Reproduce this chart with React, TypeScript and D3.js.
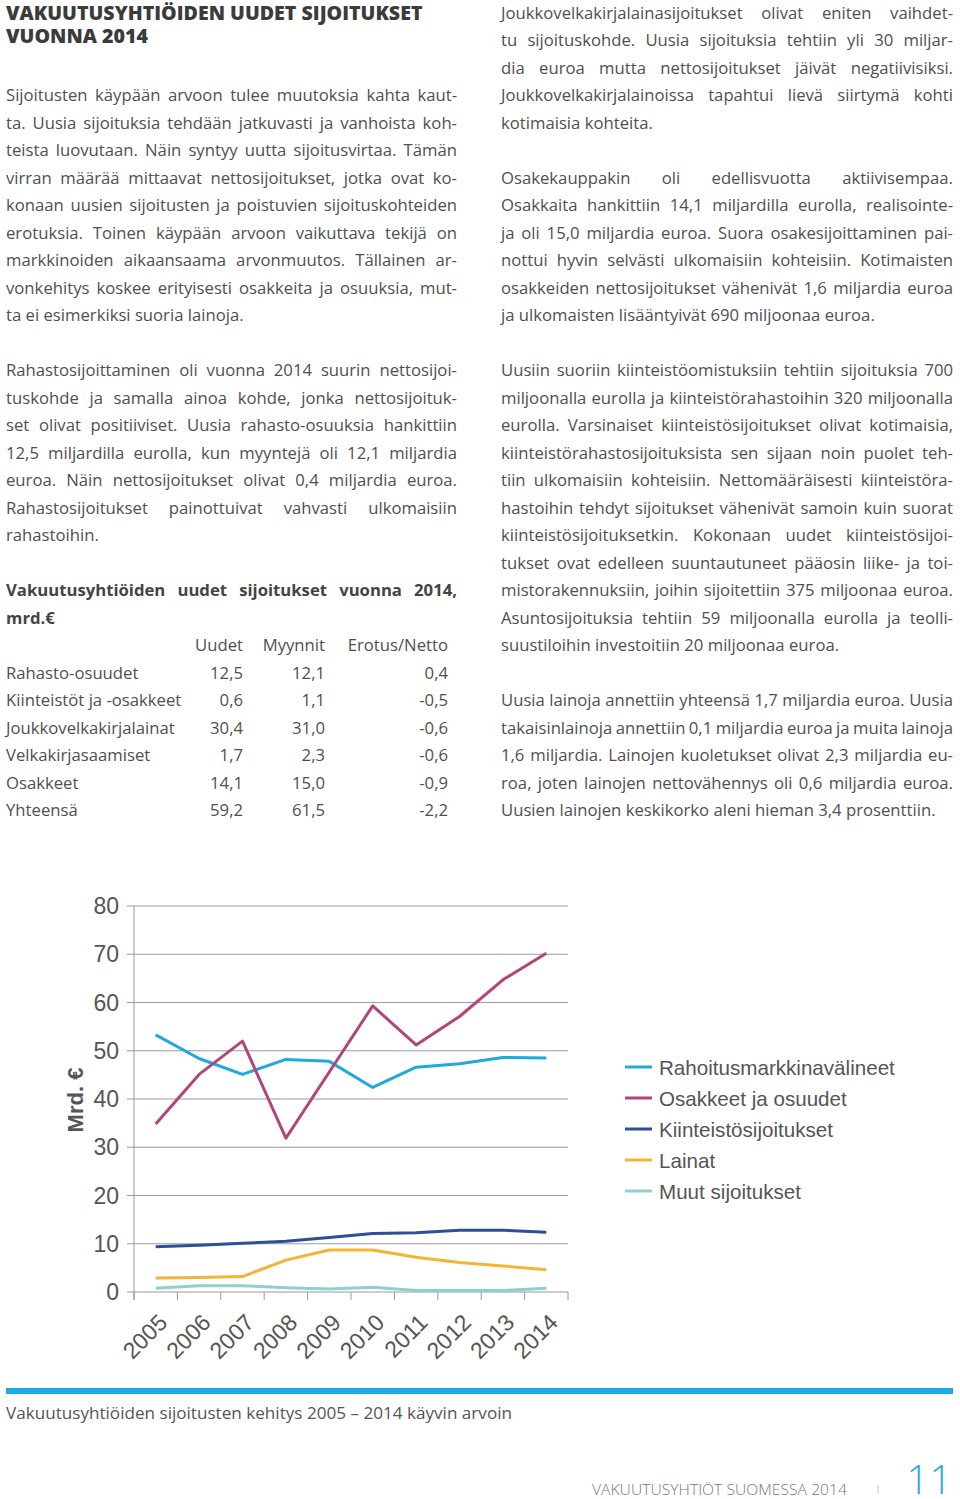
import React from "react";
import * as d3 from "d3";

// ---------- DATA ----------
const years = ["2005", "2006", "2007", "2008", "2009", "2010", "2011", "2012", "2013", "2014"];
const rahoitusmarkkinavalineet = [53.3, 48.4, 45.1, 48.2, 47.8, 42.4, 46.6, 47.3, 48.6, 48.5];
const osakkeetJaOsuudet = [34.8, 45.1, 52.0, 31.9, 45.6, 59.3, 51.2, 57.1, 64.7, 70.2];
const kiinteistosijoitukset = [9.4, 9.7, 10.1, 10.5, 11.3, 12.1, 12.3, 12.8, 12.8, 12.4];
const lainat = [2.9, 3.0, 3.2, 6.6, 8.7, 8.7, 7.2, 6.1, 5.4, 4.6];
const muutSijoitukset = [0.8, 1.3, 1.3, 0.9, 0.6, 1.0, 0.3, 0.3, 0.3, 0.8];
const seriesNames = ["Rahoitusmarkkinavälineet", "Osakkeet ja osuudet", "Kiinteistösijoitukset", "Lainat", "Muut sijoitukset"];
const seriesColors = ["#22a9dc", "#b2457c", "#2f4e98", "#f4b533", "#8fcfcf"];
const yTicks = [0, 10, 20, 30, 40, 50, 60, 70, 80];

const tableHeader = ["Uudet", "Myynnit", "Erotus/Netto"];
const tableCategories = ["Rahasto-osuudet", "Kiinteistöt ja -osakkeet", "Joukkovelkakirjalainat", "Velkakirjasaamiset", "Osakkeet", "Yhteensä"];
const tableUudet = ["12,5", "0,6", "30,4", "1,7", "14,1", "59,2"];
const tableMyynnit = ["12,1", "1,1", "31,0", "2,3", "15,0", "61,5"];
const tableNetto = ["0,4", "-0,5", "-0,6", "-0,6", "-0,9", "-2,2"];

const heading = ["VAKUUTUSYHTIÖIDEN UUDET SIJOITUKSET", "VUONNA 2014"];
const leftPara1 = [
  "Sijoitusten käypään arvoon tulee muutoksia kahta kaut-",
  "ta. Uusia sijoituksia tehdään jatkuvasti ja vanhoista koh-",
  "teista luovutaan. Näin syntyy uutta sijoitusvirtaa. Tämän",
  "virran määrää mittaavat nettosijoitukset, jotka ovat ko-",
  "konaan uusien sijoitusten ja poistuvien sijoituskohteiden",
  "erotuksia. Toinen käypään arvoon vaikuttava tekijä on",
  "markkinoiden aikaansaama arvonmuutos. Tällainen ar-",
  "vonkehitys koskee erityisesti osakkeita ja osuuksia, mut-",
  "ta ei esimerkiksi suoria lainoja.",
];
const leftPara2 = [
  "Rahastosijoittaminen oli vuonna 2014 suurin nettosijoi-",
  "tuskohde ja samalla ainoa kohde, jonka nettosijoituk-",
  "set olivat positiiviset. Uusia rahasto-osuuksia hankittiin",
  "12,5 miljardilla eurolla, kun myyntejä oli 12,1 miljardia",
  "euroa. Näin nettosijoitukset olivat 0,4 miljardia euroa.",
  "Rahastosijoitukset painottuivat vahvasti ulkomaisiin",
  "rahastoihin.",
];
const tableTitle = ["Vakuutusyhtiöiden uudet sijoitukset vuonna 2014,", "mrd.€"];
const rightPara1 = [
  "Joukkovelkakirjalainasijoitukset olivat eniten vaihdet-",
  "tu sijoituskohde. Uusia sijoituksia tehtiin yli 30 miljar-",
  "dia euroa mutta nettosijoitukset jäivät negatiivisiksi.",
  "Joukkovelkakirjalainoissa tapahtui lievä siirtymä kohti",
  "kotimaisia kohteita.",
];
const rightPara2 = [
  "Osakekauppakin oli edellisvuotta aktiivisempaa.",
  "Osakkaita hankittiin 14,1 miljardilla eurolla, realisointe-",
  "ja oli 15,0 miljardia euroa. Suora osakesijoittaminen pai-",
  "nottui hyvin selvästi ulkomaisiin kohteisiin. Kotimaisten",
  "osakkeiden nettosijoitukset vähenivät 1,6 miljardia euroa",
  "ja ulkomaisten lisääntyivät 690 miljoonaa euroa.",
];
const rightPara3 = [
  "Uusiin suoriin kiinteistöomistuksiin tehtiin sijoituksia 700",
  "miljoonalla eurolla ja kiinteistörahastoihin 320 miljoonalla",
  "eurolla. Varsinaiset kiinteistösijoitukset olivat kotimaisia,",
  "kiinteistörahastosijoituksista sen sijaan noin puolet teh-",
  "tiin ulkomaisiin kohteisiin. Nettomääräisesti kiinteistöra-",
  "hastoihin tehdyt sijoitukset vähenivät samoin kuin suorat",
  "kiinteistösijoituksetkin. Kokonaan uudet kiinteistösijoi-",
  "tukset ovat edelleen suuntautuneet pääosin liike- ja toi-",
  "mistorakennuksiin, joihin sijoitettiin 375 miljoonaa euroa.",
  "Asuntosijoituksia tehtiin 59 miljoonalla eurolla ja teolli-",
  "suustiloihin investoitiin 20 miljoonaa euroa.",
];
const rightPara4 = [
  "Uusia lainoja annettiin yhteensä 1,7 miljardia euroa. Uusia",
  "takaisinlainoja annettiin 0,1 miljardia euroa ja muita lainoja",
  "1,6 miljardia. Lainojen kuoletukset olivat 2,3 miljardia eu-",
  "roa, joten lainojen nettovähennys oli 0,6 miljardia euroa.",
  "Uusien lainojen keskikorko aleni hieman 3,4 prosenttiin.",
];
const caption = "Vakuutusyhtiöiden sijoitusten kehitys 2005 – 2014 käyvin arvoin";
const footerText = "VAKUUTUSYHTIÖT SUOMESSA 2014";
const pageNumber = "11";

// ---------- helpers ----------
const BODY_FONT = "'Open Sans', 'Noto Sans', sans-serif";
const BODY_SIZE = 16.7;
const LETTER_SP = 0;
const TEXT_COLOR = "#4f4f4f";
const LINE_H = 27.5;

let ctx: CanvasRenderingContext2D | null = null;
function measure(text: string, size: number, weight: number, ls: number) {
  if (!ctx && typeof document !== "undefined") {
    ctx = document.createElement("canvas").getContext("2d");
  }
  const base = ctx
    ? ((ctx.font = `${weight} ${size}px 'Open Sans'`), ctx.measureText(text).width)
    : text.length * size * 0.5;
  return base + ls * text.length;
}

function JustLine({ text, x, y, width, justify, size = BODY_SIZE, weight = 400, fill = TEXT_COLOR, ls = LETTER_SP }: any) {
  if (!justify) {
    return (
      <text x={x} y={y} fontFamily={BODY_FONT} fontSize={size} fontWeight={weight} fill={fill} letterSpacing={ls}>
        {text}
      </text>
    );
  }
  const words = text.split(" ");
  const widths = words.map((w: string) => measure(w, size, weight, ls));
  const total = d3.sum(widths);
  let gap = words.length > 1 ? (width - total) / (words.length - 1) : 0;
  let lsUsed = ls;
  if (gap < 3 && words.length > 1) {
    const chars = d3.sum(words, (w: string) => w.length);
    const need = (3 - gap) * (words.length - 1);
    lsUsed = ls - need / chars;
    gap = 3;
  }
  const widths2 = words.map((w: string) => measure(w, size, weight, lsUsed));
  let cx = x;
  const xs = widths2.map((w: number) => {
    const p = cx;
    cx += w + gap;
    return p;
  });
  return (
    <text y={y} fontFamily={BODY_FONT} fontSize={size} fontWeight={weight} fill={fill} letterSpacing={lsUsed}>
      {words.map((w: string, i: number) => (
        <tspan key={i} x={xs[i]}>
          {w}
        </tspan>
      ))}
    </text>
  );
}

function Paragraph({ lines, x, y0, width, size = BODY_SIZE, weight = 400, fill = TEXT_COLOR, ls = LETTER_SP }: any) {
  return (
    <g>
      {lines.map((l: string, i: number) => (
        <JustLine
          key={i}
          text={l}
          x={x}
          y={y0 + i * LINE_H}
          width={width}
          justify={i < lines.length - 1}
          size={size}
          weight={weight}
          fill={fill}
          ls={ls}
        />
      ))}
    </g>
  );
}

export default function App() {
  const W = 960;
  const H = 1499;

  // chart scales
  const x = d3.scaleBand().domain(years).range([134, 568]).padding(0);
  const y = d3.scaleLinear().domain([0, 80]).range([1292, 906]);
  const cx = (yr: string) => (x(yr) as number) + x.bandwidth() / 2;
  const allSeries = [rahoitusmarkkinavalineet, osakkeetJaOsuudet, kiinteistosijoitukset, lainat, muutSijoitukset];
  const line = d3
    .line<number>()
    .x((_, i) => cx(years[i]))
    .y((d) => y(d));
  const boundaries = [...years.map((yr) => x(yr) as number), 568];

  const LX = 6;
  const RX = 501;
  const COLW = 451;

  const axisFont = "'Liberation Sans', Arial, sans-serif";

  return (
    <svg width={W} height={H} style={{ position: "absolute", left: 0, top: 0, background: "#fff" }}>
      {/* heading */}
      <text fontFamily={BODY_FONT} fontWeight={800} fontSize={19.6} fill="#3b3b3b">
        {heading.map((h, i) => (
          <tspan key={i} x={LX} y={20 + i * 23}>
            {h}
          </tspan>
        ))}
      </text>

      {/* left column */}
      <Paragraph lines={leftPara1} x={LX} y0={101} width={COLW} />
      <Paragraph lines={leftPara2} x={LX} y0={376} width={COLW} />
      <Paragraph lines={tableTitle} x={LX} y0={596} width={COLW} weight={700} fill="#444" />

      {/* table */}
      <g fontFamily={BODY_FONT} fontSize={BODY_SIZE} fill={TEXT_COLOR}>
        {tableHeader.map((h, i) => (
          <text key={h} x={[243, 325, 448][i]} y={651} textAnchor="end">
            {h}
          </text>
        ))}
        {tableCategories.map((c, i) => {
          const yy = 678.5 + i * LINE_H;
          return (
            <g key={c}>
              <text x={LX} y={yy}>{c}</text>
              <text x={243} y={yy} textAnchor="end">{tableUudet[i]}</text>
              <text x={325} y={yy} textAnchor="end">{tableMyynnit[i]}</text>
              <text x={448} y={yy} textAnchor="end">{tableNetto[i]}</text>
            </g>
          );
        })}
      </g>

      {/* right column */}
      <Paragraph lines={rightPara1} x={RX} y0={18.5} width={COLW + 1} />
      <Paragraph lines={rightPara2} x={RX} y0={183.5} width={COLW + 1} />
      <Paragraph lines={rightPara3} x={RX} y0={376} width={COLW + 1} />
      <Paragraph lines={rightPara4} x={RX} y0={706} width={COLW + 1} />

      {/* chart */}
      <g>
        {yTicks.map((t) => (
          <g key={t}>
            <line x1={127} x2={568} y1={y(t)} y2={y(t)} stroke="#9a9a9a" strokeWidth={1} />
            <text
              x={119}
              y={y(t)}
              textAnchor="end"
              dominantBaseline="central"
              fontFamily={axisFont}
              fontSize={23}
              fill="#555"
            >
              {t}
            </text>
          </g>
        ))}
        <line x1={134} x2={134} y1={y(80)} y2={1300} stroke="#9a9a9a" strokeWidth={1} />
        {boundaries.map((b, i) => (
          <line key={i} x1={b} x2={b} y1={y(0)} y2={1300} stroke="#9a9a9a" strokeWidth={1} />
        ))}
        {years.map((yr) => (
          <text
            key={yr}
            transform={`translate(${cx(yr) + 13},${1324}) rotate(-45)`}
            textAnchor="end"
            fontFamily={axisFont}
            fontSize={23}
            fill="#555"
          >
            {yr}
          </text>
        ))}
        <text
          transform="translate(83,1100) rotate(-90)"
          textAnchor="middle"
          fontFamily={axisFont}
          fontWeight={700}
          fontSize={22}
          fill="#555"
        >
          Mrd. €
        </text>
        {allSeries.map((s, i) => (
          <path key={i} d={line(s) || ""} fill="none" stroke={seriesColors[i]} strokeWidth={3} strokeLinejoin="round" />
        ))}

        {/* legend */}
        {seriesNames.map((n, i) => {
          const ly = 1067 + i * 31;
          return (
            <g key={n}>
              <line x1={625} x2={652} y1={ly} y2={ly} stroke={seriesColors[i]} strokeWidth={3} />
              <text x={659} y={ly} dominantBaseline="central" fontFamily={axisFont} fontSize={20.6} fill="#555">
                {n}
              </text>
            </g>
          );
        })}
      </g>

      {/* footer */}
      <rect x={6} y={1388} width={947} height={6} fill="#1eaae6" />
      <text
        x={6}
        y={1419}
        fontFamily={BODY_FONT}
        fontSize={16.5}
        fill="#555"
        textLength={506}
        lengthAdjust="spacingAndGlyphs"
      >
        {caption}
      </text>
      <text
        x={592}
        y={1495}
        fontFamily={BODY_FONT}
        fontSize={15}
        fontWeight={300}
        fill="#777"
        textLength={255}
        lengthAdjust="spacingAndGlyphs"
      >
        {footerText}
      </text>
      <line x1={878} x2={878} y1={1485} y2={1494} stroke="#9ed8f0" strokeWidth={1} />
      <text x={952} y={1494} textAnchor="end" fontFamily={BODY_FONT} fontSize={40} fontWeight={300} fill="#29abe2">
        {pageNumber}
      </text>
    </svg>
  );
}
